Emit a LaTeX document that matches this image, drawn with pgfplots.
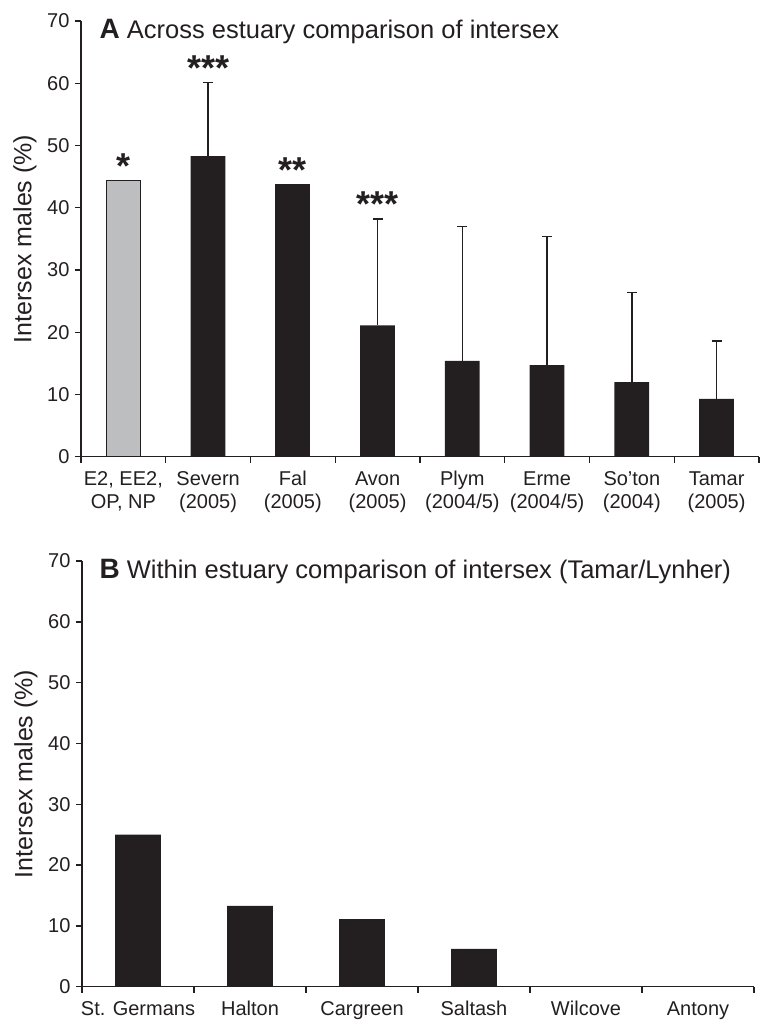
\documentclass[border=0pt]{standalone}
\usepackage{fontspec}
\setmainfont{Liberation Sans}
\usepackage{pgfplots}
\pgfplotsset{compat=1.18}
\definecolor{barblack}{HTML}{231F20}
\definecolor{bargray}{HTML}{BCBEC0}

\pgfplotstableread{
x y e
1 48.3 11.8
3 21.1 17.1
4 15.4 21.6
5 14.7 20.7
6 12.0 14.4
7 9.3 9.3
}\errdata

\tikzset{sigstar/.style={font=\fontsize{36}{40}\selectfont\bfseries, text=barblack, anchor=base, yshift=2pt}}

\begin{document}
\begin{tikzpicture}
\path[use as bounding box] (0pt,0pt) rectangle (761pt,1021pt);
\pgfplotsset{
  panel/.style={
    scale only axis,
    anchor=south west,
    axis x line*=bottom, axis y line*=left,
    axis line style={line width=1.4pt, draw=barblack, -},
    ymin=0, ymax=70, ytick={0,10,...,70},
    tick align=outside,
    major tick length=6pt,
    tick style={line width=1.4pt, draw=barblack},
    /pgf/number format/assume math mode=true,
    yticklabel style={font=\fontsize{20}{22}\selectfont, text=barblack, xshift=-2pt},
    xticklabel style={font=\fontsize{20}{22.3}\selectfont, align=center, text=barblack, anchor=north, yshift=-4pt},
    ylabel={Intersex males (\%)},
    ylabel style={at={([xshift=-56pt]axis description cs:0,0.5)}, anchor=center, font=\fontsize{25}{30}\selectfont, text=barblack},
    x tick label as interval,
    clip=false,
    ybar, bar shift=0pt,
  },
}
% Panel A
\begin{axis}[panel, at={(81pt,564.3pt)}, width=678pt, height=435.7pt,
  xmin=-0.5, xmax=7.5, xtick={-0.5,0.5,...,7.5},
  xticklabels={{\strut E2, EE2,\\\strut OP, NP},{\strut Severn\\\strut (2005)},{\strut Fal\\\strut (2005)},{\strut Avon\\\strut (2005)},{\strut Plym\\\strut (2004/5)},{\strut Erme\\\strut (2004/5)},{\strut So'ton\\\strut (2004)},{\strut Tamar\\\strut (2005)}},
  bar width=0.41]
\addplot[fill=bargray, draw=barblack, line width=1pt] coordinates {(0,44.4)};
\addplot[fill=barblack, draw=none] coordinates {(2,43.8)};
\addplot[fill=barblack, draw=none,
  error bars/.cd, y dir=plus, y explicit,
  error bar style={line width=1.4pt, draw=barblack},
  error mark options={line width=1.4pt, draw=barblack, mark size=5pt, rotate=90}]
  table[x=x, y=y, y error=e] {\errdata};
\node[sigstar] at (axis cs:0,44.4) {*};
\node[sigstar] at (axis cs:1,60.1) {***};
\node[sigstar] at (axis cs:2,43.8) {**};
\node[sigstar] at (axis cs:3,38.2) {***};
\end{axis}
\node[anchor=base west, text=barblack, font=\fontsize{25.5}{30}\selectfont] at (96pt,982.7pt) {{\fontsize{28}{30}\selectfont\bfseries A} Across estuary comparison of intersex};
% Panel B
\begin{axis}[panel, at={(82pt,34.3pt)}, width=672pt, height=425.7pt,
  xmin=-0.5, xmax=5.5, xtick={-0.5,0.5,...,5.5},
  xticklabels={{\strut St. Germans},{\strut Halton},{\strut Cargreen},{\strut Saltash},{\strut Wilcove},{\strut Antony}},
  bar width=0.41]
\addplot[fill=barblack, draw=none] coordinates {(0,25.0) (1,13.3) (2,11.1) (3,6.2) (4,0) (5,0)};
\end{axis}
\node[anchor=base west, text=barblack, font=\fontsize{25.5}{30}\selectfont] at (96pt,442pt) {{\fontsize{28}{30}\selectfont\bfseries B} Within estuary comparison of intersex (Tamar/Lynher)};
\end{tikzpicture}
\end{document}
